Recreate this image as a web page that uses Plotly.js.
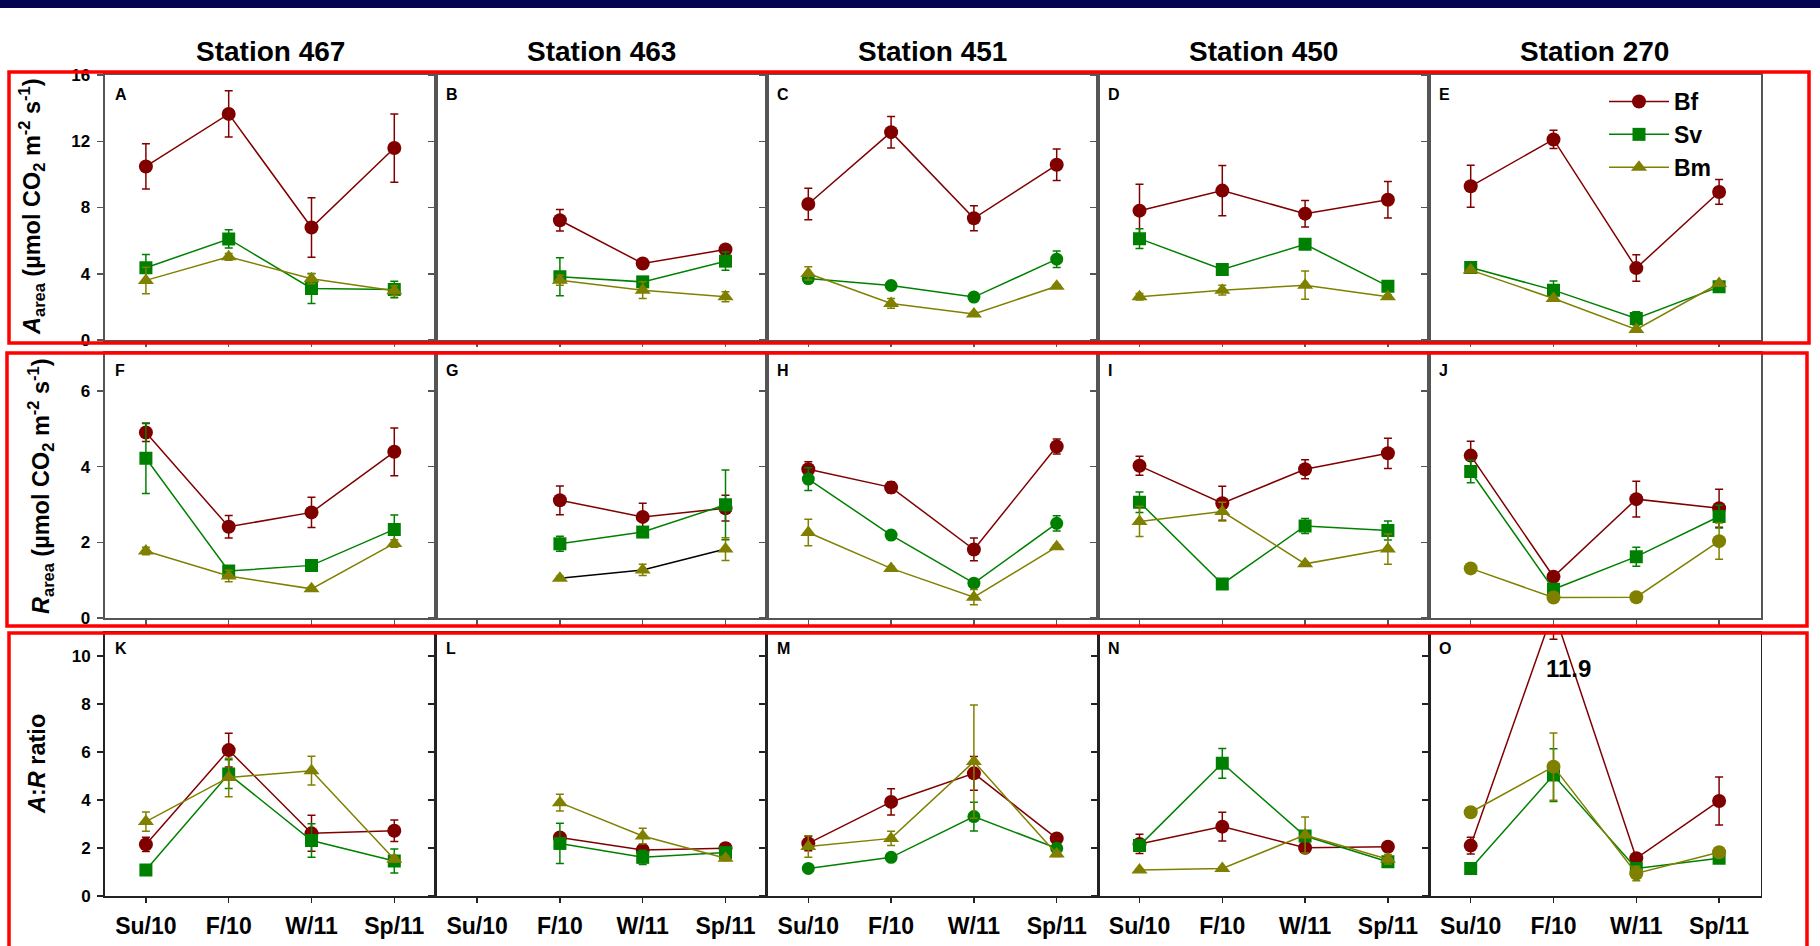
<!DOCTYPE html>
<html><head><meta charset="utf-8">
<script src="https://cdn.plot.ly/plotly-3.0.1.min.js"></script>
<style>html,body{margin:0;padding:0;background:#fff;overflow:hidden}#chart{width:1820px;height:946px;}</style>
</head><body><div id="chart"></div>
<script>
// ---------- data ----------
const seasons = ['Su/10','F/10','W/11','Sp/11'];
const stations = ['Station 467','Station 463','Station 451','Station 450','Station 270'];
const species = ['Bf','Sv','Bm'];
const panelLetters = [['A','B','C','D','E'],['F','G','H','I','J'],['K','L','M','N','O']];
const yTickVals = [[0,4,8,12,16],[0,2,4,6],[0,2,4,6,8,10]];

// A_area (umol CO2 m-2 s-1), one row per station, columns = seasons
const aBf    = [[10.48,13.65,6.79,11.59],[null,7.23,4.62,5.46],[8.21,12.55,7.35,10.58],[7.81,9.02,7.63,8.47],[9.28,12.11,4.34,8.94]];
const aBfErr = [[1.37,1.40,1.80,2.06],[null,0.65,0.20,0.20],[0.95,0.95,0.75,0.95],[1.60,1.52,0.80,1.10],[1.27,0.55,0.80,0.75]];
const aSv    = [[4.36,6.10,3.11,3.05],[null,3.82,3.51,4.76],[3.71,3.29,2.59,4.88],[6.12,4.26,5.78,3.25],[4.38,3.01,1.30,3.21]];
const aSvErr = [[0.80,0.55,0.90,0.50],[null,1.15,0.30,0.55],[0.20,0.10,0.10,0.50],[0.60,0.15,0.20,0.15],[0.15,0.55,0.40,0.10]];
const aBm    = [[3.60,5.02,3.70,2.97],[null,3.61,3.01,2.61],[4.02,2.21,1.57,3.25],[2.61,3.01,3.31,2.61],[4.22,2.51,0.64,3.41]];
const aBmErr = [[0.80,0.20,0.30,0.30],[null,0.30,0.50,0.30],[0.40,0.30,0.10,0.10],[0.20,0.30,0.85,0.10],[0.10,0.10,0.10,0.10]];

// R_area
const rBf    = [[4.90,2.41,2.79,4.39],[null,3.11,2.67,2.90],[3.93,3.45,1.81,4.53],[4.02,3.03,3.93,4.35],[4.29,1.09,3.14,2.90]];
const rBfErr = [[0.24,0.30,0.40,0.63],[null,0.38,0.36,0.34],[0.20,0.15,0.30,0.20],[0.25,0.45,0.25,0.40],[0.38,0.05,0.47,0.50]];
const rSv    = [[4.22,1.24,1.39,2.34],[null,1.96,2.27,2.99],[3.67,2.19,0.92,2.50],[3.06,0.90,2.43,2.31],[3.87,0.76,1.62,2.68]];
const rSvErr = [[0.93,0.05,0.05,0.38],[null,0.20,0.05,0.92],[0.30,0.05,0.05,0.20],[0.27,0.05,0.20,0.25],[0.30,0.05,0.25,0.30]];
const rBm    = [[1.77,1.11,0.77,1.97],[null,1.05,1.27,1.82],[2.26,1.31,0.55,1.88],[2.55,2.81,1.43,1.82],[1.31,0.54,0.55,2.03]];
const rBmErr = [[0.10,0.15,0.05,0.10],[null,0.05,0.15,0.30],[0.35,0.05,0.20,0.05],[0.40,0.25,0.05,0.40],[0.05,0.05,0.05,0.48]];

// A:R ratio
const arBf    = [[2.15,6.08,2.61,2.72],[null,2.44,1.92,1.99],[2.19,3.92,5.11,2.40],[2.17,2.89,2.01,2.05],[2.10,11.9,1.57,3.96]];
const arBfErr = [[0.30,0.70,0.75,0.45],[null,0.20,0.20,0.20],[0.30,0.55,0.70,0.15],[0.40,0.60,0.15,0.10],[0.35,1.20,0.20,1.00]];
const arSv    = [[1.08,5.08,2.31,1.46],[null,2.19,1.61,1.81],[1.15,1.61,3.31,1.99],[2.10,5.53,2.50,1.43],[1.15,5.04,1.15,1.57]];
const arSvErr = [[0.10,0.60,0.70,0.50],[null,0.84,0.30,0.20],[0.10,0.10,0.60,0.15],[0.15,0.62,0.20,0.10],[0.10,1.10,0.15,0.10]];
const arBm    = [[3.10,4.94,5.22,1.53],[null,3.89,2.50,1.57],[2.06,2.40,5.60,1.75],[1.08,1.15,2.54,1.53],[3.49,5.39,0.94,1.82]];
const arBmErr = [[0.40,0.80,0.60,0.10],[null,0.35,0.32,0.10],[0.45,0.30,2.36,0.10],[0.05,0.05,0.75,0.20],[0.10,1.40,0.30,0.20]];

// ---------- layout helpers ----------
const W = 1820, H = 946;
const FONT = 'Liberation Sans, Arial, Helvetica, sans-serif';
const px = v => v / W;
const py = v => 1 - v / H;
const colLeft = 104.5, colW = 331.2;
const rowTop = [75, 353, 632], rowBot = [340, 618, 896];
const yRanges = [[0,16],[0,7],[0,11]];
const colors = ['#800000','#008000','#808000'];
const symbols = ['circle','square','triangle-up'];
const msizes = [14,13,14];

const rows = [
  {vals:[aBf,aSv,aBm], errs:[aBfErr,aSvErr,aBmErr]},
  {vals:[rBf,rSv,rBm], errs:[rBfErr,rSvErr,rBmErr]},
  {vals:[arBf,arSv,arBm], errs:[arBfErr,arSvErr,arBmErr]}
];

const traces = [];
const layout = {
  width: W, height: H,
  margin: {l:0, r:0, t:0, b:0, pad:0},
  paper_bgcolor: '#fff', plot_bgcolor: '#fff',
  font: {family: FONT, color: '#000'},
  showlegend: true,
  legend: {x: px(1604), y: py(80), xanchor: 'left', yanchor: 'top',
           font: {family: FONT, size: 23, weight: 'bold', color:'#000'},
           bgcolor: 'rgba(0,0,0,0)', borderwidth: 0, tracegroupgap: 0,
           itemsizing: 'trace', itemwidth: 60},
  annotations: [], shapes: []
};

for (let r = 0; r < 3; r++) {
  for (let c = 0; c < 5; c++) {
    const idx = r * 5 + c + 1;
    const xs = idx === 1 ? '' : String(idx);
    const lineCol = r === 2 ? '#222' : '#555';
    const lineW = r === 2 ? 1.5 : 2;
    const x0 = colLeft + c * colW, x1 = x0 + colW;
    layout['xaxis' + xs] = {
      domain: [px(x0), px(x1)], anchor: 'y' + xs,
      type: 'category', categoryorder: 'array', categoryarray: seasons,
      range: [-0.5, 3.5], showgrid: false, zeroline: false,
      showline: true, mirror: true, linecolor: lineCol, linewidth: lineW,
      ticks: 'outside', ticklen: 5, tickwidth: 1.5, tickcolor: lineCol,
      showticklabels: r === 2, ticklabelstandoff: 4,
      tickfont: {family: FONT, size: 23, weight: 'bold', color: '#000'},
      fixedrange: true
    };
    layout['yaxis' + xs] = {
      domain: [py(rowBot[r]), py(rowTop[r])], anchor: 'x' + xs,
      range: yRanges[r], tickmode: 'array', tickvals: yTickVals[r],
      showgrid: false, zeroline: false,
      showline: true, mirror: true, linecolor: lineCol, linewidth: lineW,
      ticks: 'outside', ticklen: 6, tickwidth: 1.5, tickcolor: lineCol,
      showticklabels: c === 0, ticklabelstandoff: 3,
      tickfont: {family: FONT, size: 17, weight: 'bold', color: '#000'},
      fixedrange: true
    };
    for (let s = 0; s < 3; s++) {
      let sym = symbols[s];
      if (c === 2 && s === 1) sym = 'circle';          // station 451: Sv drawn as circles
      if (c === 4 && s === 2 && r > 0) sym = 'circle'; // station 270 Bm circles (J, O)
      let lc = colors[s];
      if (r === 1 && c === 1 && s === 2) lc = '#000';  // panel G Bm black line
      traces.push({
        type: 'scatter', mode: 'lines+markers',
        x: seasons, y: rows[r].vals[s][c],
        xaxis: 'x' + xs, yaxis: 'y' + xs,
        name: species[s], legendgroup: species[s], showlegend: idx === 1,
        connectgaps: false, cliponaxis: true,
        line: {color: lc, width: 1.5},
        marker: {color: colors[s], symbol: sym, size: msizes[s], line: {width: 0}},
        error_y: {type: 'data', array: rows[r].errs[s][c], visible: true,
                  color: colors[s], thickness: 1.5, width: 4},
        hoverinfo: 'skip'
      });
    }
    // panel letter
    layout.annotations.push({
      text: panelLetters[r][c], xref: 'paper', yref: 'paper',
      x: px(x0 + 8), y: py(rowTop[r] + [19, 17, 16][r]),
      xanchor: 'left', yanchor: 'middle', showarrow: false,
      font: {family: FONT, size: 16, weight: 'bold', color: '#000'}
    });
  }
}

// station titles
stations.forEach((st, c) => {
  layout.annotations.push({
    text: st, xref: 'paper', yref: 'paper',
    x: px(colLeft + c * colW + colW / 2), y: py(51),
    xanchor: 'center', yanchor: 'middle', showarrow: false,
    font: {family: FONT, size: 28, weight: 'bold', color: '#000'}
  });
});

// y-axis titles
const yTitles = [
  {t: '<i>A</i><sub>area</sub> (µmol CO<sub>2</sub> m<sup>-2</sup> s<sup>-1</sup>)', x: 31, y: 207},
  {t: '<i>R</i><sub>area</sub> (µmol CO<sub>2</sub> m<sup>-2</sup> s<sup>-1</sup>)', x: 40, y: 486},
  {t: '<i>A</i>:<i>R</i> ratio', x: 37, y: 764}
];
yTitles.forEach(o => layout.annotations.push({
  text: o.t, xref: 'paper', yref: 'paper', x: px(o.x), y: py(o.y),
  xanchor: 'center', yanchor: 'middle', textangle: -90, showarrow: false,
  font: {family: FONT, size: 23.5, weight: 'bold', color: '#000'}
}));

// off-scale value label in panel O
layout.annotations.push({
  text: '11.9', xref: 'paper', yref: 'paper', x: px(1568), y: py(668),
  xanchor: 'center', yanchor: 'middle', showarrow: false,
  font: {family: FONT, size: 24, weight: 'bold', color: '#000'}
});

// decorative frame shapes
layout.shapes.push({type: 'rect', xref: 'paper', yref: 'paper', x0: 0, x1: 1, y0: py(8), y1: 1,
  fillcolor: '#05054f', line: {width: 0}, layer: 'above'});
const redBoxes = [[9, 72, 1809, 343], [7, 353, 1807, 626], [9, 633, 1807, 980]];
redBoxes.forEach(b => layout.shapes.push({
  type: 'rect', xref: 'paper', yref: 'paper',
  x0: px(b[0]), x1: px(b[2]), y0: py(b[3]), y1: py(b[1]),
  line: {color: '#ff0000', width: 3.5}, fillcolor: 'rgba(0,0,0,0)', layer: 'above'
}));

Plotly.newPlot('chart', traces, layout, {staticPlot: true, displayModeBar: false});
</script>
</body></html>
